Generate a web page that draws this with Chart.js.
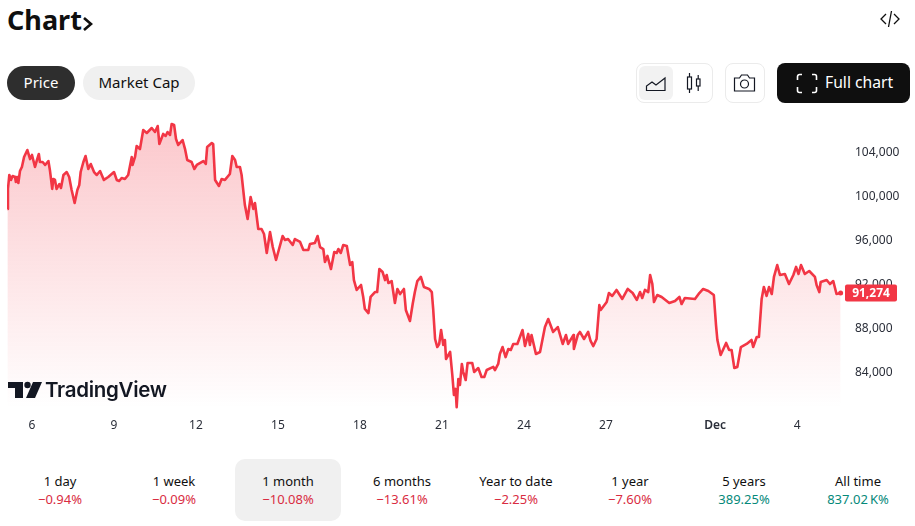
<!DOCTYPE html>
<html>
<head>
<meta charset="utf-8">
<title>Chart</title>
<script src="https://cdn.jsdelivr.net/npm/chart.js@4/dist/chart.umd.min.js"></script>
<style>
  html, body { margin: 0; padding: 0; background: #fff; }
  body { width: 915px; height: 526px; position: relative; overflow: hidden; font-family: "Noto Sans", sans-serif; color: #131722; }
  .abs { position: absolute; }
  #title { left: 7px; top: 0; font-size: 27px; font-weight: 700; line-height: 40px; color: #0f0f0f; }
  .pill { top: 66px; height: 34px; line-height: 33px; border-radius: 17px; text-align: center; font-size: 15px; }
  #pillPrice { left: 7px; width: 68px; background: #2e2e2e; color: #fff; }
  #pillCap { left: 83px; width: 112px; background: #f0f0f0; color: #0f0f0f; }
  .box { top: 63px; height: 38px; border: 1px solid #ebebeb; border-radius: 8px; box-sizing: content-box; }
  #typeBox { left: 636px; width: 75px; }
  #typeActive { left: 639px; top: 66px; width: 34px; height: 34px; background: #f2f2f2; border-radius: 6px; }
  #camBox { left: 725px; width: 38px; }
  #fullBtn { left: 777px; top: 63px; width: 133px; height: 40px; background: #0f0f0f; border-radius: 8px; }
  #fullTxt { left: 825px; top: 63px; line-height: 39px; font-size: 15.7px; color: #fff; white-space: nowrap; }
  #chartCanvas { position: absolute; left: 0; top: 110px; }
  #tvLogo { left: 8px; top: 381px; }
  #tvTxt { left: 45px; top: 376px; font-family: Inter, sans-serif; font-size: 20.5px; line-height: 28px; font-weight: 600; color: #131722; letter-spacing: -0.3px; }
  #activeTab { left: 235px; top: 459px; width: 106px; height: 62px; background: #f0f0f0; border-radius: 10px; }
  .tab { top: 472px; width: 114px; text-align: center; font-size: 13px; line-height: 18px; white-space: nowrap; }
  .tab b { display: block; font-weight: 400; color: #0f0f0f; }
  .tab i { display: block; font-style: normal; }
</style>
</head>
<body>
<div id="title" class="abs">Chart</div>
<svg class="abs" style="left:82px;top:16px" width="12" height="16" viewBox="0 0 12 16"><path d="M2 2l7 6-7 6" fill="none" stroke="#0f0f0f" stroke-width="2.6"/></svg>
<svg class="abs" style="left:879px;top:9px" width="22" height="20" viewBox="0 0 22 20" fill="none" stroke="#0f0f0f" stroke-width="1.3"><path d="M7 5l-5 5 5 5M15 5l5 5-5 5M12.5 2L9.5 18"/></svg>

<div id="pillPrice" class="abs pill">Price</div>
<div id="pillCap" class="abs pill">Market Cap</div>

<div id="typeBox" class="abs box"></div>
<div id="typeActive" class="abs"></div>
<svg class="abs" style="left:645px;top:76px" width="22" height="16" viewBox="0 0 22 16" fill="none" stroke="#131722" stroke-width="1.2"><path d="M1.5 14.5V10l5.5-4 4 3 9-7v12.5z"/></svg>
<svg class="abs" style="left:685px;top:72px" width="18" height="22" viewBox="0 0 18 22" fill="none" stroke="#131722" stroke-width="1.2"><rect x="2.5" y="5" width="4" height="12"/><path d="M4.5 1v4M4.5 17v4"/><rect x="11.5" y="7" width="3.5" height="7"/><path d="M13.2 3v4M13.2 14v5"/></svg>
<div id="camBox" class="abs box"></div>
<svg class="abs" style="left:733px;top:73px" width="23" height="20" viewBox="0 0 23 20" fill="none" stroke="#131722" stroke-width="1.2"><path d="M1.5 5h5l2-3h6l2 3h5v13h-20z"/><circle cx="11.5" cy="11" r="4"/></svg>
<div id="fullBtn" class="abs"></div>
<svg class="abs" style="left:796px;top:73px" width="22" height="21" viewBox="0 0 22 21" fill="none" stroke="#fff" stroke-width="1.6"><path d="M6 1.5H3.5a2 2 0 0 0-2 2V7M16 1.5h2.5a2 2 0 0 1 2 2V7M6 19.5H3.5a2 2 0 0 1-2-2V14M16 19.5h2.5a2 2 0 0 0 2-2V14"/></svg>
<div id="fullTxt" class="abs">Full chart</div>

<canvas id="chartCanvas" width="915" height="330"></canvas>

<svg id="tvLogo" class="abs" width="34" height="18" viewBox="0 0 34 18" fill="#131722"><path d="M0 1h15v16H7V7H0z"/><circle cx="19.5" cy="4" r="3.2"/><path d="M25 1h9l-7 16h-9z"/></svg>
<div id="tvTxt" class="abs">TradingView</div>

<div id="activeTab" class="abs"></div>
<div id="tabs"></div>

<script>
// day of the month on the time axis (Dec 1 continues as 31)
const days = [
  5.10, 5.12, 5.17, 5.23, 5.29, 5.38, 5.41, 5.46, 5.50, 5.56, 5.63, 5.71, 5.83, 5.93, 6.00, 6.11, 6.18, 6.25, 6.29, 6.39,
  6.48, 6.60, 6.66, 6.74, 6.78, 6.84, 6.90, 7.00, 7.06, 7.15, 7.27, 7.36, 7.45, 7.56, 7.66, 7.73, 7.78, 7.88, 7.96, 8.06,
  8.15, 8.27, 8.37, 8.49, 8.63, 8.79, 9.00, 9.10, 9.19, 9.28, 9.40, 9.52, 9.65, 9.68, 9.77, 9.83, 9.95, 10.07, 10.20, 10.38,
  10.50, 10.60, 10.66, 10.80, 10.89, 10.96, 11.05, 11.11, 11.20, 11.27, 11.35, 11.51, 11.60, 11.68, 11.84, 11.94, 12.03, 12.27, 12.36, 12.41,
  12.58, 12.63, 12.70, 12.84, 12.94, 13.06, 13.24, 13.33, 13.43, 13.49, 13.61, 13.67, 13.79, 13.89, 14.00, 14.10, 14.16, 14.28, 14.40, 14.49,
  14.59, 14.71, 14.81, 14.93, 15.01, 15.17, 15.26, 15.37, 15.54, 15.62, 15.81, 15.93, 16.11, 16.17, 16.35, 16.45, 16.54, 16.66, 16.72, 16.81,
  16.94, 17.06, 17.15, 17.21, 17.30, 17.39, 17.52, 17.64, 17.72, 17.78, 17.88, 18.04, 18.12, 18.18, 18.31, 18.39, 18.55, 18.63, 18.71, 18.83,
  18.92, 18.98, 19.04, 19.16, 19.28, 19.37, 19.47, 19.61, 19.68, 19.83, 19.93, 20.01, 20.10, 20.23, 20.34, 20.53, 20.63, 20.68, 20.75, 20.83,
  20.90, 20.97, 21.05, 21.11, 21.15, 21.30, 21.38, 21.44, 21.50, 21.54, 21.60, 21.66, 21.73, 21.78, 21.87, 21.94, 22.11, 22.18, 22.33, 22.45,
  22.55, 22.64, 22.88, 22.94, 23.06, 23.12, 23.22, 23.33, 23.43, 23.52, 23.61, 23.76, 23.95, 24.04, 24.16, 24.22, 24.28, 24.44, 24.59, 24.77,
  24.89, 25.07, 25.24, 25.42, 25.54, 25.62, 25.81, 25.83, 25.97, 26.05, 26.20, 26.35, 26.44, 26.54, 26.66, 26.76, 26.81, 27.03, 27.11, 27.23,
  27.39, 27.60, 27.80, 27.98, 28.13, 28.25, 28.33, 28.43, 28.55, 28.62, 28.70, 28.76, 28.88, 29.04, 29.32, 29.53, 29.69, 29.77, 29.89, 30.26,
  30.42, 30.56, 30.75, 30.95, 31.03, 31.08, 31.20, 31.40, 31.51, 31.60, 31.70, 31.81, 31.94, 32.15, 32.33, 32.39, 32.52, 32.60, 32.70, 32.78,
  32.88, 32.97, 33.07, 33.15, 33.27, 33.37, 33.55, 33.70, 33.86, 33.96, 34.05, 34.14, 34.28, 34.44, 34.65, 34.71, 34.81, 34.86, 35.08, 35.20,
  35.32, 35.44, 35.59
];

const prices = [
  98910, 100730, 102000, 101550, 101910, 101820, 101360, 101820, 101270, 102360, 102730, 103640, 104270, 103450, 103820, 102730, 103360, 103910, 103180, 103180,
  102910, 103270, 102360, 100730, 101640, 101550, 100730, 101180, 100820, 102000, 102270, 101820, 100640, 99450, 100640, 101090, 102270, 103180, 103730, 102550,
  103000, 102270, 102000, 102360, 101550, 101820, 102270, 101550, 101450, 101730, 101640, 102000, 103640, 102910, 103640, 104640, 104360, 106090, 105820, 106270,
  105910, 106450, 104820, 105730, 105550, 105910, 105640, 106640, 106550, 105270, 104730, 105180, 104360, 103360, 103180, 102550, 102910, 103270, 103000, 104550,
  104910, 104820, 101550, 101000, 101640, 101550, 102090, 103730, 103360, 102730, 102730, 102000, 99270, 98000, 100000, 98910, 99450, 97090, 97090, 96640,
  94910, 96820, 95450, 94270, 95000, 96450, 96090, 96180, 95640, 96180, 95910, 95180, 95180, 95730, 95820, 96450, 95450, 95270, 94090, 94640,
  93450, 95000, 94910, 95270, 94910, 95640, 95550, 93820, 94090, 92450, 91550, 92000, 90910, 89820, 89450, 90910, 91360, 91360, 93450, 93180,
  92450, 92910, 92180, 92360, 90360, 91640, 91180, 91640, 89730, 88730, 90270, 91360, 92360, 92730, 91820, 91640, 91360, 89820, 87090, 86360,
  86640, 87910, 86550, 87000, 85270, 85910, 83820, 82000, 82550, 80900, 83450, 82910, 84820, 84090, 83360, 84910, 84910, 84090, 84450, 83640,
  83640, 84270, 84550, 84270, 84820, 85730, 86360, 85450, 86180, 86090, 86640, 86640, 87910, 86450, 87550, 86550, 87450, 85730, 85910, 88180,
  88910, 87730, 88180, 86640, 87450, 86640, 87450, 86180, 87450, 87730, 87090, 87730, 86910, 86450, 87090, 90180, 89730, 90450, 91270, 91000,
  91550, 90730, 91640, 91270, 90640, 91360, 90820, 91550, 91360, 92910, 92090, 90450, 91090, 90910, 90360, 90550, 90910, 90270, 90820, 90730,
  91270, 91640, 91450, 91090, 88360, 87000, 85640, 86730, 86090, 86090, 84450, 84550, 86360, 86640, 87000, 86360, 87270, 87270, 90730, 91820,
  91000, 91820, 91180, 92730, 93820, 92910, 93000, 92090, 92910, 93640, 93000, 93820, 93000, 93270, 92730, 92000, 91360, 92270, 92450, 92090,
  92360, 91180, 91274
];

const xTickDays = [6, 9, 12, 15, 18, 21, 24, 27, 31, 34];
const xTickLabels = ["6", "9", "12", "15", "18", "21", "24", "27", "Dec", "4"];
const yTicks = [84000, 88000, 92000, 96000, 100000, 104000];

const tabLabels = ["1 day", "1 week", "1 month", "6 months", "Year to date", "1 year", "5 years", "All time"];
const tabValues = ["\u22120.94%", "\u22120.09%", "\u221210.08%", "\u221213.61%", "\u22122.25%", "\u22127.60%", "389.25%", "837.02\u2009K%"];
const tabColors = ["#d92c42", "#d92c42", "#d92c42", "#d92c42", "#d92c42", "#d92c42", "#05897a", "#05897a"];

const LINE_COLOR = "#f23645";
const FONT = '"Noto Sans", sans-serif';

// period tabs under the chart
const tabs = document.getElementById("tabs");
tabLabels.forEach((label, i) => {
  const el = document.createElement("div");
  el.className = "abs tab";
  el.style.left = (3 + i * 114) + "px";
  el.innerHTML = "<b>" + label + "</b><i style=\"color:" + tabColors[i] + "\">" + tabValues[i] + "</i>";
  tabs.appendChild(el);
});

// red tag with the last price, sits on the right axis
const lastPriceTag = {
  id: "lastPriceTag",
  afterDraw(chart) {
    const ctx = chart.ctx;
    const last = prices[prices.length - 1];
    const y = chart.scales.y.getPixelForValue(last);
    ctx.save();
    ctx.fillStyle = LINE_COLOR;
    ctx.beginPath();
    ctx.roundRect(845, y - 8.5, 52, 17, 2);
    ctx.fill();
    ctx.fillStyle = "#fff";
    ctx.font = "bold 12px " + FONT;
    ctx.textAlign = "center";
    ctx.textBaseline = "middle";
    ctx.fillText(last.toLocaleString("en-US"), 871, y + 0.5);
    ctx.restore();
  }
};

function areaGradient(context) {
  const area = context.chart.chartArea;
  if (!area) return "rgba(242,54,69,0.1)";
  const g = context.chart.ctx.createLinearGradient(0, area.top + 8, 0, area.bottom - 2);
  g.addColorStop(0, "rgba(242,54,69,0.28)");
  g.addColorStop(1, "rgba(242,54,69,0)");
  return g;
}

// the axes keep a fixed size, no extra room for half of the edge labels
function fixAxis(scale, width, height) {
  if (width) scale.width = width;
  if (height) scale.height = height;
  scale.paddingTop = 0;
  scale.paddingBottom = 0;
  scale.paddingLeft = 0;
  scale.paddingRight = 0;
}

new Chart(document.getElementById("chartCanvas").getContext("2d"), {
  type: "line",
  data: {
    datasets: [{
      label: "Price",
      data: days.map((d, i) => ({ x: d, y: prices[i] })),
      borderColor: LINE_COLOR,
      borderWidth: 2.6,
      borderJoinStyle: "round",
      backgroundColor: areaGradient,
      fill: "start",
      tension: 0,
      pointRadius: ctx => ctx.dataIndex === prices.length - 1 ? 2.5 : 0,
      pointBackgroundColor: LINE_COLOR,
      pointBorderWidth: 0
    }]
  },
  options: {
    responsive: false,
    animation: false,
    layout: { padding: { left: 7, top: 0, right: 0, bottom: 0 } },
    plugins: { legend: { display: false }, tooltip: { enabled: false } },
    scales: {
      x: {
        type: "linear",
        min: 5.085,
        max: 35.75,
        grid: { display: false, drawTicks: false },
        border: { display: false },
        afterBuildTicks: scale => { scale.ticks = xTickDays.map(v => ({ value: v })); },
        afterFit: scale => fixAxis(scale, 0, 30),
        ticks: {
          autoSkip: false,
          maxRotation: 0,
          padding: 8,
          color: "#2a2e39",
          font: ctx => ({ family: FONT, size: 12, weight: xTickLabels[ctx.index] === "Dec" ? "600" : "400" }),
          callback: (v, i) => xTickLabels[i]
        }
      },
      y: {
        position: "right",
        min: 80636,
        max: 107545,
        grid: { display: false, drawTicks: false },
        border: { display: false },
        afterBuildTicks: scale => { scale.ticks = yTicks.map(v => ({ value: v })); },
        afterFit: scale => fixAxis(scale, 70, 0),
        ticks: {
          padding: 10,
          color: "#2a2e39",
          font: { family: FONT, size: 12 },
          callback: v => v.toLocaleString("en-US")
        }
      }
    }
  },
  plugins: [lastPriceTag]
});
</script>
</body>
</html>
